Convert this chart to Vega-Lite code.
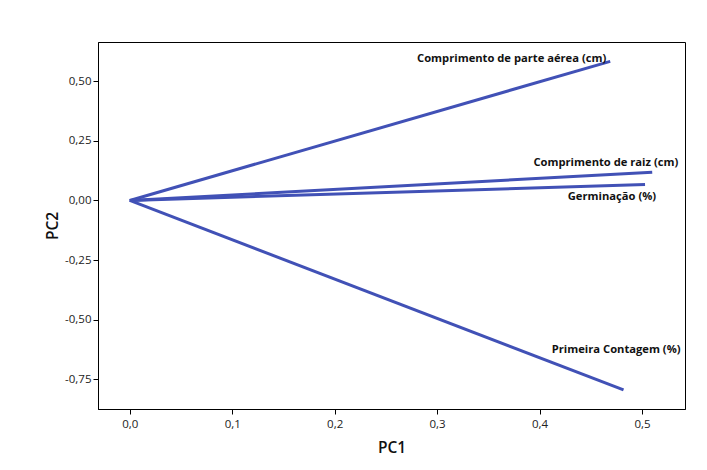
{
  "$schema": "https://vega.github.io/schema/vega-lite/v6.json",
  "width": 587,
  "height": 367,
  "autosize": {"type": "none"},
  "padding": {"left": 98, "top": 42, "right": 22, "bottom": 61},
  "background": "white",
  "config": {
    "locale": {"number": {"decimal": ",", "thousands": ".", "grouping": [3], "currency": ["", ""], "minus": "-"}},
    "view": {"stroke": "#000000", "strokeWidth": 1},
    "font": "Open Sans",
    "axis": {
      "grid": false,
      "domainColor": "#000000",
      "tickColor": "#000000",
      "tickSize": 5,
      "labelFont": "Open Sans",
      "labelFontSize": 11.5,
      "labelColor": "#222222",
      "titleFont": "Open Sans",
      "titleFontSize": 15.5,
      "titleFontWeight": 600,
      "titleColor": "#111111"
    }
  },
  "data": {
    "values": [
      {"variavel": "Comprimento de parte aérea (cm)", "pc1": 0.469, "pc2": 0.583},
      {"variavel": "Comprimento de raiz (cm)", "pc1": 0.510, "pc2": 0.118},
      {"variavel": "Germinação (%)", "pc1": 0.503, "pc2": 0.067},
      {"variavel": "Primeira Contagem (%)", "pc1": 0.482, "pc2": -0.794}
    ]
  },
  "encoding": {
    "x": {"field": "pc1", "type": "quantitative", "title": "PC1",
      "scale": {"domain": [-0.031, 0.542], "nice": false, "zero": false},
      "axis": {"values": [0, 0.1, 0.2, 0.3, 0.4, 0.5], "format": ".1f", "labelPadding": 4, "titlePadding": 11}},
    "y": {"field": "pc2", "type": "quantitative", "title": "PC2",
      "scale": {"domain": [-0.874, 0.664], "nice": false, "zero": false},
      "axis": {"values": [-0.75, -0.5, -0.25, 0, 0.25, 0.5], "format": ".2f", "titlePadding": 4}}
  },
  "layer": [
    {
      "mark": {"type": "rule", "color": "#4151b6", "strokeWidth": 3},
      "encoding": {
        "x": {"datum": 0, "type": "quantitative"},
        "y": {"datum": 0, "type": "quantitative"},
        "x2": {"field": "pc1"},
        "y2": {"field": "pc2"}
      }
    },
    {
      "transform": [{"filter": "datum.variavel === 'Comprimento de parte aérea (cm)'"}],
      "mark": {"type": "text", "align": "right", "baseline": "middle", "dx": -4, "dy": -2, "fontSize": 11.2, "fontWeight": "bold", "color": "#111111"},
      "encoding": {"text": {"field": "variavel"}}
    },
    {
      "transform": [{"filter": "datum.variavel === 'Comprimento de raiz (cm)'"}],
      "mark": {"type": "text", "align": "right", "baseline": "middle", "dx": 26, "dy": -9, "fontSize": 11.2, "fontWeight": "bold", "color": "#111111"},
      "encoding": {"text": {"field": "variavel"}}
    },
    {
      "transform": [{"filter": "datum.variavel === 'Germinação (%)'"}],
      "mark": {"type": "text", "align": "right", "baseline": "middle", "dx": 11, "dy": 13, "fontSize": 11.2, "fontWeight": "bold", "color": "#111111"},
      "encoding": {"text": {"field": "variavel"}}
    },
    {
      "transform": [{"filter": "datum.variavel === 'Primeira Contagem (%)'"}],
      "mark": {"type": "text", "align": "right", "baseline": "middle", "dx": 57, "dy": -40, "fontSize": 11.2, "fontWeight": "bold", "color": "#111111"},
      "encoding": {"text": {"field": "variavel"}}
    }
  ]
}
